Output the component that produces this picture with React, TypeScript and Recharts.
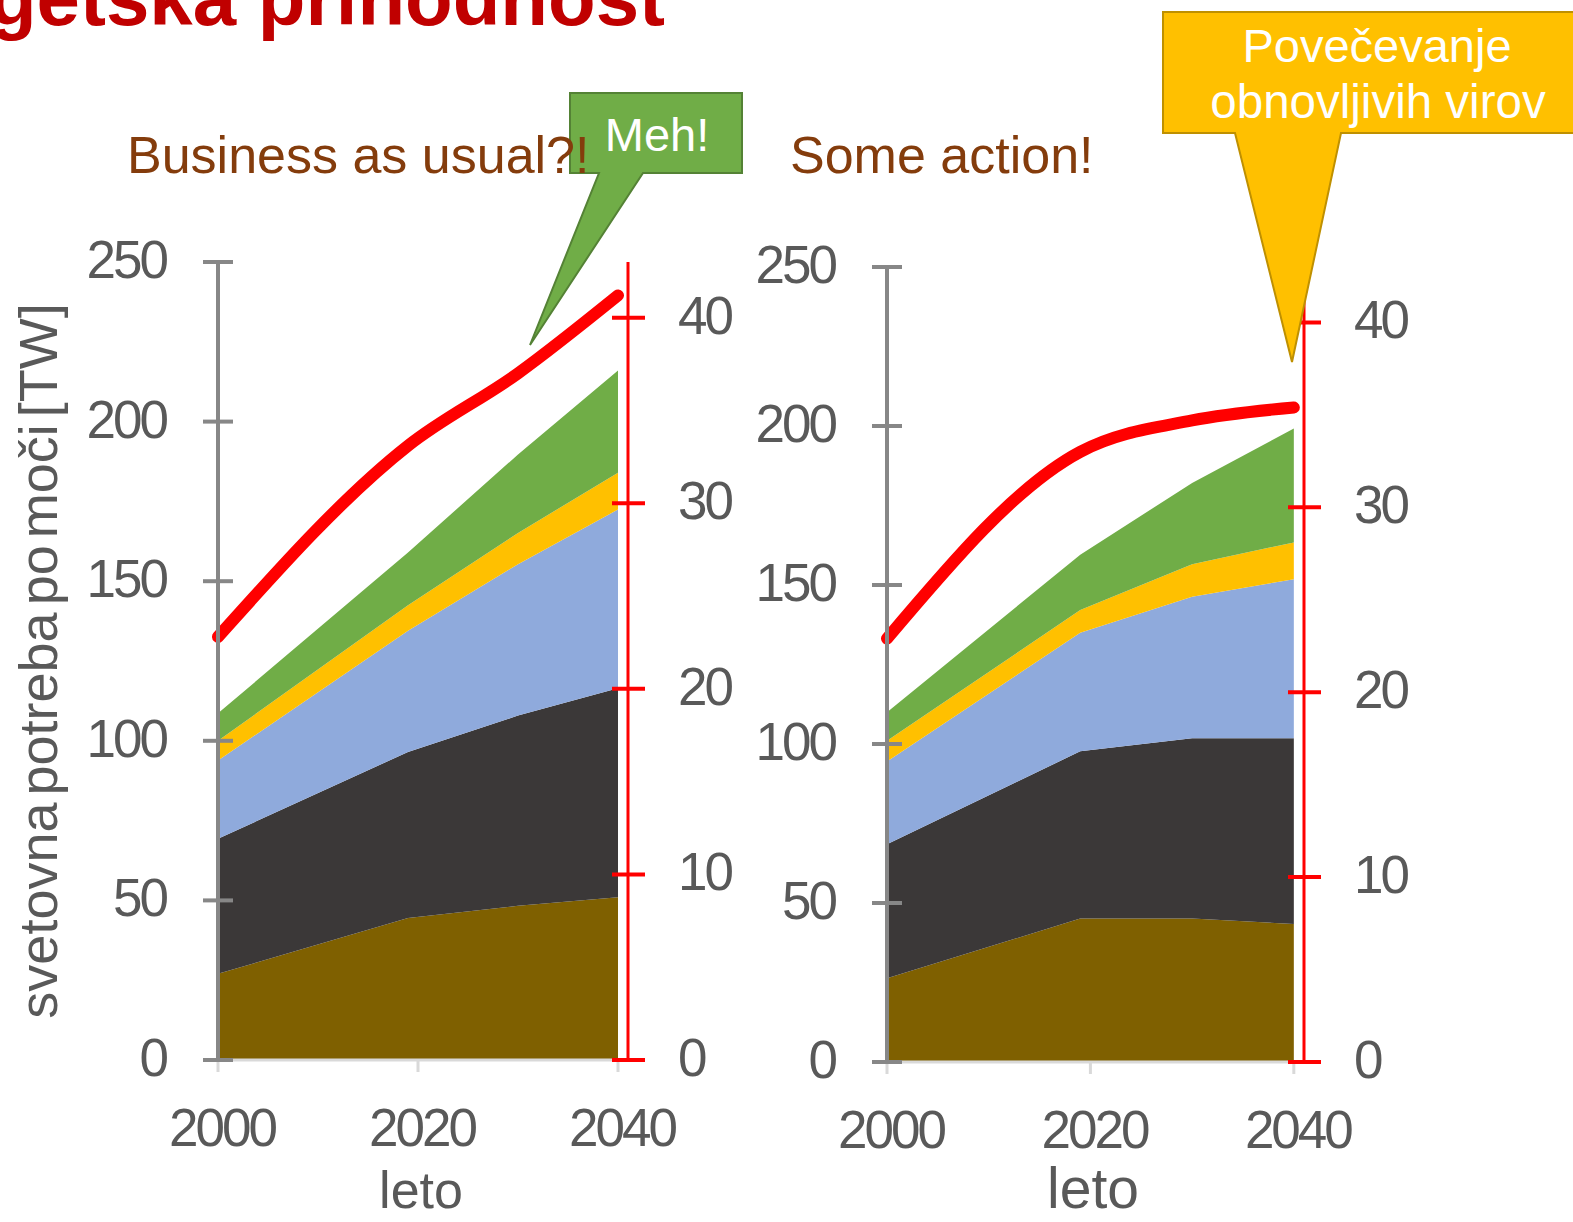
import React from 'react';
import { ComposedChart, Area, Line, XAxis, YAxis } from 'recharts';

const years = [2000, 2019, 2030, 2040];
const xTicks = [2000, 2020, 2040];
const leftTicks = [0, 50, 100, 150, 200, 250];
const rightTicks = [0, 10, 20, 30, 40];

// "Business as usual?!" scenario, stacked layers in TW
const bauBrown = [27, 44.5, 48.3, 51];
const bauBlack = [42.3, 52, 59.6, 65.5];
const bauBlue = [24.5, 38, 47.4, 56];
const bauYellow = [6.2, 8, 9.8, 11.5];
const bauGreen = [8.6, 16.5, 24.6, 32];
const bauTotal = [22.8, 33.1, 37.0, 41.2];

// "Some action!" scenario
const actBrown = [26.3, 45.1, 45.1, 43.4];
const actBlack = [42.2, 52.6, 56.7, 58.4];
const actBlue = [26, 37.3, 44.5, 50];
const actYellow = [6.5, 7.1, 10.2, 11.6];
const actGreen = [9, 17.4, 25.6, 35.8];
const actTotal = [22.9, 33.0, 34.7, 35.4];

const layers = [
  { key: 'brown', color: '#7F6000' },
  { key: 'black', color: '#3B3838' },
  { key: 'blue', color: '#8FAADC' },
  { key: 'yellow', color: '#FFC000' },
  { key: 'green', color: '#70AD47' },
];

const buildRows = (
  brown: number[], black: number[], blue: number[], yellow: number[], green: number[], total: number[],
) => years.map((year, i) => ({
  year, brown: brown[i], black: black[i], blue: blue[i], yellow: yellow[i], green: green[i], total: total[i],
}));

const bauData = buildRows(bauBrown, bauBlack, bauBlue, bauYellow, bauGreen, bauTotal);
const actData = buildRows(actBrown, actBlack, actBlue, actYellow, actGreen, actTotal);

const FONT = '"Liberation Sans", Arial, sans-serif';
const GREY_TEXT = '#595959';

const LeftTick = ({ x, y, payload }: any) => (
  <g>
    <line x1={x + 37} x2={x + 67} y1={y} y2={y} stroke="#878787" strokeWidth={4} />
    <text x={x} y={y} dy={16} textAnchor="end" fontSize={53} letterSpacing={-3}
      fill={GREY_TEXT} fontFamily={FONT}>{payload.value}</text>
  </g>
);

const RightTick = ({ x, y, payload }: any) => (
  <g>
    <line x1={x - 66} x2={x - 33} y1={y} y2={y} stroke="#FF0000" strokeWidth={4} />
    <text x={x} y={y} dy={16} textAnchor="start" fontSize={53} letterSpacing={-3}
      fill={GREY_TEXT} fontFamily={FONT}>{payload.value}</text>
  </g>
);

const BottomTick = ({ x, y, payload }: any) => (
  <text x={x + 4} y={y + 74} textAnchor="middle" fontSize={53} letterSpacing={-3}
    fill={GREY_TEXT} fontFamily={FONT}>{payload.value}</text>
);

type PanelProps = {
  data: typeof bauData;
  left: number;
  top: number;
  yLeftWidth: number;
  yRightWidth: number;
  xHeight: number;
};

const Panel = ({ data, left, top, yLeftWidth, yRightWidth, xHeight }: PanelProps) => (
  <div style={{ position: 'absolute', left, top: 0 }}>
    <ComposedChart width={760} height={1222} data={data}
      margin={{ top, right: 0, bottom: 0, left: 0 }}>
      <XAxis dataKey="year" type="number" domain={[2000, 2041]} ticks={xTicks}
        height={xHeight} axisLine={{ stroke: '#D9D9D9', strokeWidth: 3 }}
        tickLine={{ stroke: '#D9D9D9', strokeWidth: 3 }} tickSize={12} tickMargin={0}
        tick={<BottomTick />} interval={0} />
      <YAxis yAxisId="left" domain={[0, 250]} ticks={leftTicks} width={yLeftWidth}
        axisLine={{ stroke: '#878787', strokeWidth: 4 }} tickLine={false}
        tickSize={0} tickMargin={52} tick={<LeftTick />} interval={0} />
      <YAxis yAxisId="right" orientation="right" domain={[0, 43]} ticks={rightTicks}
        width={yRightWidth} axisLine={{ stroke: '#FF0000', strokeWidth: 3 }} tickLine={false}
        tickSize={0} tickMargin={50} tick={<RightTick />} interval={0} />
      {layers.map((l) => (
        <Area key={l.key} yAxisId="left" dataKey={l.key} stackId="mix" type="linear"
          fill={l.color} fillOpacity={1} stroke="none" isAnimationActive={false} />
      ))}
      <Line yAxisId="right" dataKey="total" type="monotone" stroke="#FF0000" strokeWidth={12}
        strokeLinecap="round" strokeLinejoin="round" dot={false} isAnimationActive={false} />
    </ComposedChart>
  </div>
);

export default function App() {
  return (
    <div style={{ position: 'relative', width: 1573, height: 1222, overflow: 'hidden', background: '#fff' }}>
      <style>{'body{margin:0}'}</style>
      <Panel data={bauData} left={0} top={262} yLeftWidth={218} yRightWidth={132} xHeight={162} />
      <Panel data={actData} left={740} top={267} yLeftWidth={147} yRightWidth={196} xHeight={160} />
      <svg width={1573} height={1222} style={{ position: 'absolute', left: 0, top: 0, pointerEvents: 'none' }}
        fontFamily={FONT}>
        <text x={665} y={25} textAnchor="end" fontSize={78} fontWeight="bold" fill="#C00000">
          Energetska prihodnost
        </text>

        <path d="M570,93 H742 V173 H643 L530,345 L599,173 H570 Z" fill="#70AD47" stroke="#548235" strokeWidth={2} />
        <text x={657} y={151} textAnchor="middle" fontSize={47} fill="#fff">Meh!</text>

        <path d="M1163,12 H1590 V133 H1341 L1292,362 L1235,133 H1163 Z" fill="#FFC000" stroke="#BF9000" strokeWidth={2} />
        <text x={1377} y={62} textAnchor="middle" fontSize={47} fill="#fff">Povečevanje</text>
        <text x={1378} y={118} textAnchor="middle" fontSize={47.5} fill="#fff">obnovljivih virov</text>

        <text x={127} y={173} fontSize={52} fill="#843C0C">Business as usual?!</text>
        <text x={790} y={173} fontSize={52} fill="#843C0C">Some action!</text>

        <text transform="translate(57,661) rotate(-90)" textAnchor="middle" fontSize={54}
          wordSpacing={-8} fill={GREY_TEXT}>svetovna potreba po moči [TW]</text>
        <text x={421} y={1208} textAnchor="middle" fontSize={52} fill={GREY_TEXT}>leto</text>
        <text x={1093} y={1208} textAnchor="middle" fontSize={57} fill={GREY_TEXT}>leto</text>
      </svg>
    </div>
  );
}
